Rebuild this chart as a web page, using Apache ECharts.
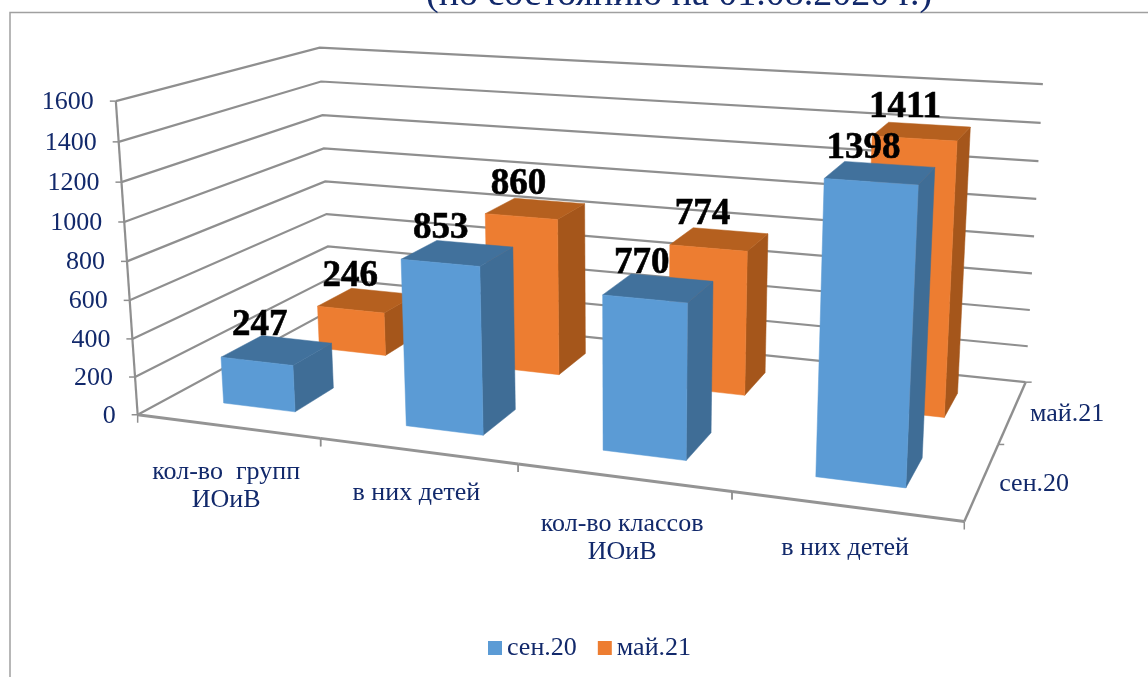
<!DOCTYPE html>
<html>
<head>
<meta charset="utf-8">
<style>html,body{margin:0;background:#fff}#chart{width:1148px;height:677px}</style>
<script src="https://cdn.jsdelivr.net/npm/echarts@6/dist/echarts.min.js"></script>
</head>
<body>
<div id="chart"></div>
<script>
const categories = ['кол-во  групп\nИОиВ', 'в них детей', 'кол-во классов\nИОиВ', 'в них детей'];
const seriesNames = ['сен.20', 'май.21'];
const sep20 = [247, 853, 770, 1398];
const may21 = [246, 860, 774, 1411];
const valueTicks = [0, 200, 400, 600, 800, 1000, 1200, 1400, 1600];

const FONT = '"Liberation Serif", serif';
const NAVY = '#12296b';
const GRID_LINE = '#8f8f8f';

// the flat grid only supplies the scales, everything is then put through the camera
const gridBox = { left: 137, top: 101, width: 824, height: 312 };

// camera fit: [cat x 0..4, value 0..1, depth 0..2] -> screen px
const cameraAnchors = [
    [0, 0, 0, 137.5, 413], [1, 0, 0, 321, 440], [2, 0, 0, 517.5, 465], [3, 0, 0, 731, 492],
    [4, 0, 0, 963, 521], [4, 0, 1, 1002, 443], [4, 0, 2, 1024, 382], [0, 0, 2, 331, 311],
    [0, 1, 0, 116.5, 101], [0, 1, 2, 319, 47], [4, 1, 2, 1043, 85]
];

function solve(A, b) {
    const n = b.length;
    const M = A.map((row, i) => row.concat(b[i]));
    for (let c = 0; c < n; c++) {
        let best = c;
        for (let r = c + 1; r < n; r++) if (Math.abs(M[r][c]) > Math.abs(M[best][c])) best = r;
        [M[c], M[best]] = [M[best], M[c]];
        for (let r = 0; r < n; r++) {
            if (r === c) continue;
            const f = M[r][c] / M[c][c];
            for (let k = c; k <= n; k++) M[r][k] -= f * M[c][k];
        }
    }
    return M.map((row, i) => row[n] / row[i]);
}

function fitCamera(anchors) {
    const rows = [], rhs = [];
    anchors.forEach(([x, y, z, sx, sy]) => {
        const X = sx / 1000, Y = sy / 1000;
        rows.push([x, y, z, 1, 0, 0, 0, 0, -X * x, -X * y, -X * z]); rhs.push(X);
        rows.push([0, 0, 0, 0, x, y, z, 1, -Y * x, -Y * y, -Y * z]); rhs.push(Y);
    });
    const ata = [], atb = [];
    for (let i = 0; i < 11; i++) {
        ata.push([]);
        atb.push(rows.reduce((s, r, k) => s + r[i] * rhs[k], 0));
        for (let j = 0; j < 11; j++) ata[i].push(rows.reduce((s, r) => s + r[i] * r[j], 0));
    }
    return solve(ata, atb);
}

const cam = fitCamera(cameraAnchors);

function project(x, y, z) {
    const d = cam[8] * x + cam[9] * y + cam[10] * z + 1;
    return [
        1000 * (cam[0] * x + cam[1] * y + cam[2] * z + cam[3]) / d,
        1000 * (cam[4] * x + cam[5] * y + cam[6] * z + cam[7]) / d
    ];
}

// scale value -> flat grid pixel -> world -> screen
function place(api, cat, frac, value, z) {
    const p = api.coord([cat, value]);
    const bw = api.size([1, 0])[0];
    return project(
        (p[0] + frac * bw - gridBox.left) / bw,
        (gridBox.top + gridBox.height - p[1]) / gridBox.height,
        z
    );
}

const line = (a, b, width, color) => ({
    type: 'line',
    shape: { x1: a[0], y1: a[1], x2: b[0], y2: b[1] },
    style: { stroke: color || GRID_LINE, lineWidth: width }
});

const text = (x, y, str, style) => ({
    type: 'text', x, y,
    style: Object.assign({ text: str, fontFamily: FONT, fontSize: 26, fill: NAVY }, style)
});

function renderValueWall(params, api) {
    const v = api.value(0);
    const front = place(api, 0, -0.5, v, 0);
    const back = place(api, 0, -0.5, v, 2);
    const right = place(api, 3, 0.5, v, 2);
    const children = [
        { type: 'polyline', shape: { points: [front, back, right] }, style: { stroke: GRID_LINE, fill: null, lineWidth: 2.2 } },
        line([front[0] - 6, front[1]], front, 1.5),
        text(front[0] - 22, front[1] + 1, String(v), { align: 'right', verticalAlign: 'middle' })
    ];
    if (params.dataIndex > 0) {
        const below = place(api, 0, -0.5, valueTicks[params.dataIndex - 1], 0);
        children.push(line(below, front, 2.2));
    }
    return { type: 'group', children };
}

function renderFloor(params, api) {
    const i = params.dataIndex;
    const a = place(api, i, -0.5, 0, 0);
    const b = place(api, i, 0.5, 0, 0);
    const mid = [(a[0] + b[0]) / 2, (a[1] + b[1]) / 2];
    const twoLines = categories[i].indexOf('\n') >= 0;
    const children = [
        line(a, b, 3, '#949494'),
        line(a, [a[0], a[1] + 8], 1.5),
        line(b, [b[0], b[1] + 8], 1.5),
        text(mid[0] - 3, mid[1] + (twoLines ? 32 : 28), categories[i], { align: 'center', verticalAlign: 'top', lineHeight: 28 })
    ];
    return { type: 'group', children };
}

function renderDepth(params, api) {
    const i = params.dataIndex;
    const a = place(api, 3, 0.5, 0, i);
    const b = place(api, 3, 0.5, 0, i + 1);
    const mid = [(a[0] + b[0]) / 2, (a[1] + b[1]) / 2];
    return {
        type: 'group',
        children: [
            line(a, b, 2.4),
            line(b, [b[0] + 6, b[1]], 1.5),
            text(mid[0] + 18, mid[1] + 1, seriesNames[i], { align: 'left', verticalAlign: 'middle' })
        ]
    };
}

const BAR_X = [-0.2, 0.2];
const BAR_Z = [0.3, 0.7];

function barRenderer(row, colors) {
    return function (params, api) {
        const cat = api.value(0), val = api.value(1);
        const z0 = row + BAR_Z[0], z1 = row + BAR_Z[1];
        const pt = (f, v, z) => place(api, cat, f, v, z);
        const [l, r] = BAR_X;
        const poly = (points, fill) => ({ type: 'polygon', shape: { points }, style: { fill, stroke: fill, lineWidth: 0.5 } });
        const top = [pt(l, val, z0), pt(r, val, z0), pt(r, val, z1), pt(l, val, z1)];
        const cx = top.reduce((s, p) => s + p[0], 0) / 4;
        const cy = top.reduce((s, p) => s + p[1], 0) / 4;
        return {
            type: 'group',
            children: [
                poly([pt(r, 0, z0), pt(r, 0, z1), pt(r, val, z1), pt(r, val, z0)], colors.side),
                poly(top, colors.top),
                poly([pt(l, 0, z0), pt(r, 0, z0), pt(r, val, z0), pt(l, val, z0)], colors.front),
                text(cx - 17, cy - 24.5, String(val), {
                    align: 'center', verticalAlign: 'middle', fontSize: 37, fontWeight: 'bold', fill: '#000',
                    stroke: '#000', lineWidth: 0.6
                })
            ]
        };
    };
}

const blue = { front: '#5b9bd5', top: '#41719c', side: '#3f6d96' };
const orange = { front: '#ed7d31', top: '#b5601f', side: '#a5561b' };

const chart = echarts.init(document.getElementById('chart'));
chart.setOption({
    animation: false,
    backgroundColor: '#fff',
    title: {
        text: '(по состоянию на 01.08.2020 г.)',
        left: 421, top: -29,
        textStyle: { fontFamily: FONT, fontSize: 38, fontWeight: 'normal', color: NAVY }
    },
    graphic: [{
        type: 'rect', z: 0,
        shape: { x: 10, y: 12.5, width: 1300, height: 900 },
        style: { fill: '#fff', stroke: '#a0a0a0', lineWidth: 1.5 }
    }],
    legend: {
        data: seriesNames,
        left: 483, top: 630, itemWidth: 14, itemHeight: 14, itemGap: 21,
        icon: 'rect',
        textStyle: { fontFamily: FONT, fontSize: 26, color: NAVY }
    },
    grid: gridBox,
    xAxis: { type: 'category', data: categories, show: false },
    yAxis: { type: 'value', min: 0, max: 1600, interval: 200, show: false },
    series: [
        { type: 'custom', name: 'walls', z: 2, silent: true, clip: false, renderItem: renderValueWall, encode: { y: 0 }, data: valueTicks.map(v => [v]) },
        { type: 'custom', name: 'floor', z: 2, silent: true, clip: false, renderItem: renderFloor, data: categories.map((c, i) => [i]) },
        { type: 'custom', name: 'depth', z: 2, silent: true, clip: false, renderItem: renderDepth, data: seriesNames.map((c, i) => [i]) },
        { type: 'custom', name: seriesNames[1], z: 3, clip: false, itemStyle: { color: orange.front }, renderItem: barRenderer(1, orange), data: may21.map((v, i) => [i, v]) },
        { type: 'custom', name: seriesNames[0], z: 4, clip: false, itemStyle: { color: blue.front }, renderItem: barRenderer(0, blue), data: sep20.map((v, i) => [i, v]) }
    ]
});
</script>
</body>
</html>
